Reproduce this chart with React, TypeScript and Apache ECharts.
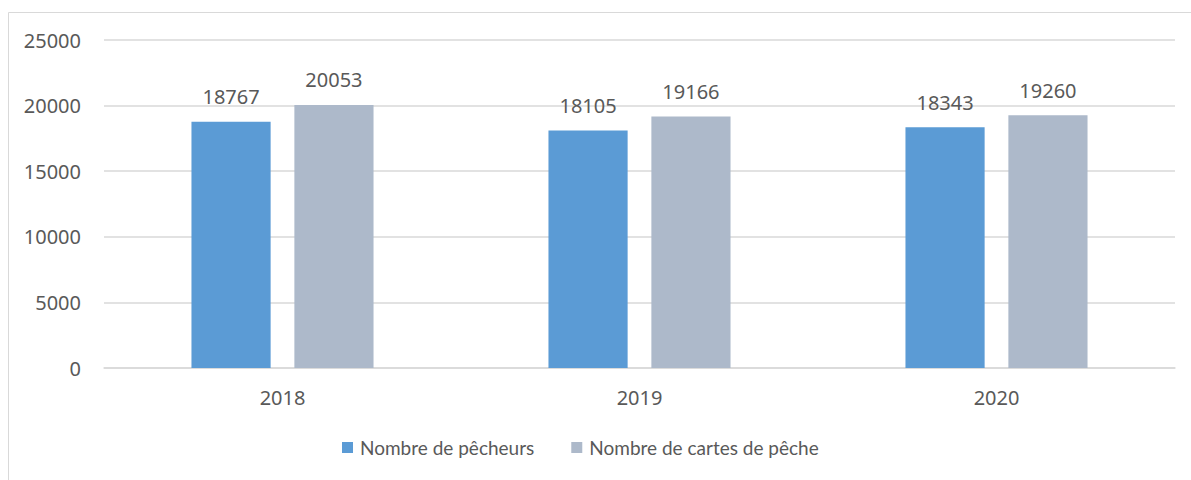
import React, { useEffect, useRef } from "react";
import * as echarts from "echarts";

const categories = ["2018", "2019", "2020"];
const seriesNames = ["Nombre de pêcheurs", "Nombre de cartes de pêche"];
const pecheurs = [18767, 18105, 18343];
const cartes = [20053, 19166, 19260];
const yTicks = { min: 0, max: 25000, interval: 5000 };

const FONT = "'Noto Sans', 'Open Sans', sans-serif";
const LEGEND_FONT = "Lato, 'Noto Sans', sans-serif";
const TEXT = "#595959";

export default function App() {
  const ref = useRef<HTMLDivElement>(null);
  useEffect(() => {
    document.body.style.margin = "0";
    const chart = echarts.init(ref.current!, null, { renderer: "svg" });
    const label = {
      show: true,
      position: "top" as const,
      distance: 15,
      color: TEXT,
      fontFamily: FONT,
      fontSize: 20,
    };
    chart.setOption({
      animation: false,
      textStyle: { fontFamily: FONT },
      graphic: [
        {
          type: "rect",
          shape: { x: 8.5, y: 12.5, width: 1250, height: 520 },
          style: { fill: "none", stroke: "#D9D9D9", lineWidth: 1 },
          silent: true,
        },
      ],
      grid: { left: 104, right: 16, top: 40, bottom: 112, containLabel: false },
      legend: {
        bottom: 18,
        left: 337,
        itemWidth: 11,
        itemHeight: 11,
        itemGap: 37,
        icon: "rect",
        textStyle: { color: TEXT, fontFamily: LEGEND_FONT, fontSize: 19, padding: [0, 0, 0, 2] },
        data: seriesNames,
      },
      xAxis: {
        type: "category",
        data: categories,
        axisLine: { lineStyle: { color: "#D9D9D9", width: 1.5 } },
        axisTick: { show: false },
        axisLabel: { color: TEXT, fontFamily: FONT, fontSize: 20, margin: 19 },
      },
      yAxis: {
        type: "value",
        min: yTicks.min,
        max: yTicks.max,
        interval: yTicks.interval,
        axisLine: { show: false },
        axisTick: { show: false },
        splitLine: { lineStyle: { color: "#D9D9D9", width: 1.5 } },
        axisLabel: {
          color: TEXT,
          fontFamily: FONT,
          fontSize: 20,
          margin: 23,
          formatter: (v: number) => String(v),
        },
      },
      series: [
        {
          name: seriesNames[0],
          type: "bar",
          data: pecheurs,
          itemStyle: { color: "#5B9BD5" },
          barGap: "30%",
          barCategoryGap: "49%",
          label,
        },
        {
          name: seriesNames[1],
          type: "bar",
          data: cartes,
          itemStyle: { color: "#ADB9CA" },
          barGap: "30%",
          barCategoryGap: "49%",
          label,
        },
      ],
    });
    return () => chart.dispose();
  }, []);
  return <div ref={ref} style={{ width: 1191, height: 480 }} />;
}
